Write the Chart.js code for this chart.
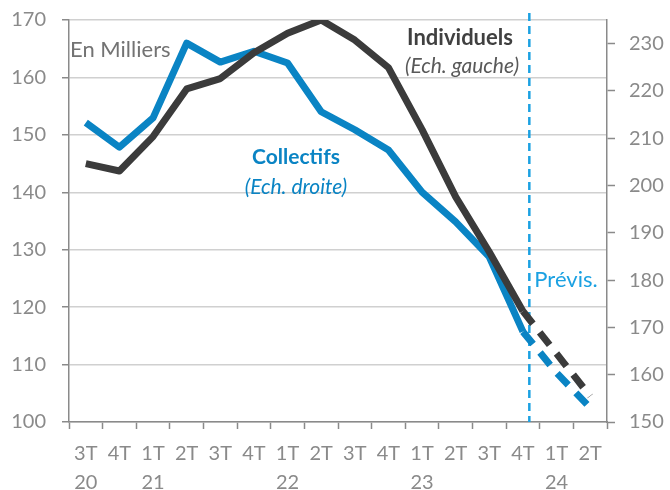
<!DOCTYPE html>
<html>
<head>
<meta charset="utf-8">
<script src="https://cdn.jsdelivr.net/npm/chart.js@4.4.1/dist/chart.umd.min.js"></script>
<style>
  html, body { margin: 0; padding: 0; background: #fff; }
  #wrap { width: 670px; height: 490px; }
</style>
</head>
<body>
<div id="wrap"><canvas id="myChart" width="670" height="490"></canvas></div>
<script>
// trimestres et années (axe x sur deux lignes)
const trimestres = ['3T', '4T', '1T', '2T', '3T', '4T', '1T', '2T', '3T', '4T', '1T', '2T', '3T', '4T', '1T', '2T'];
const annees = ['20', '', '21', '', '', '', '22', '', '', '', '23', '', '', '', '24', ''];

// Individuels (échelle gauche), en milliers
const individuels = [145, 143.7, 149.7, 158, 159.8, 164.3, 167.7, 170, 166.5, 161.7, 150.9, 139.2, 129.6, 119.3, 111.9, 104.5];
// Collectifs (échelle droite), en milliers
const collectifs = [213.3, 208.1, 214.3, 230.1, 226.1, 228.4, 225.9, 215.6, 211.8, 207.5, 198.6, 192.3, 184.9, 169.1, 160.4, 153];

// dernier point observé (4T23), ensuite prévision
const dernierReel = 13;
const debutPrevis = 13.19; // position de la ligne verticale "Prévis."

const ticksGauche = [100, 170, 10];
const ticksDroite = [150, 235, 10];

const labels = trimestres.map((t, i) => [t, annees[i]]);
const reel = arr => arr.map((v, i) => i <= dernierReel ? v : null);
const prev = arr => arr.map((v, i) => i >= dernierReel ? v : null);

const NOIR = '#3b3b3b';
const BLEU = '#0a84c4';
const BLEU_CLAIR = '#1ba1e2';
const GRIS = '#8a8a8a';
const FONT = 'Lato, "Open Sans", sans-serif';

// textes et ligne verticale
const annotations = {
    id: 'annotations',
    beforeDatasetsDraw(chart) {
        const ctx = chart.ctx;
        const x = chart.scales.x.getPixelForValue(debutPrevis);
        ctx.save();
        ctx.strokeStyle = BLEU_CLAIR;
        ctx.lineWidth = 2.5;
        ctx.setLineDash([8, 5]);
        ctx.beginPath();
        ctx.moveTo(x, 13);
        ctx.lineTo(x, chart.chartArea.bottom);
        ctx.stroke();
        ctx.restore();
    },
    afterDraw(chart) {
        const ctx = chart.ctx;
        ctx.save();
        ctx.textBaseline = 'middle';
        ctx.textAlign = 'left';
        ctx.fillStyle = '#737373';
        ctx.font = '22px ' + FONT;
        ctx.fillText('En Milliers', 70, 50);

        ctx.textAlign = 'center';
        ctx.fillStyle = '#404040';
        ctx.font = 'bold 22px ' + FONT;
        ctx.fillText('Individuels', 460, 38);
        ctx.fillStyle = '#595959';
        ctx.font = 'italic 21px ' + FONT;
        ctx.fillText('(Ech. gauche)', 462, 66);

        ctx.fillStyle = BLEU;
        ctx.font = 'bold 21px ' + FONT;
        ctx.fillText('Collectifs', 296, 157);
        ctx.font = 'italic 21px ' + FONT;
        ctx.fillText('(Ech. droite)', 296, 187);

        ctx.fillStyle = BLEU_CLAIR;
        ctx.font = '22px ' + FONT;
        ctx.fillText('Prévis.', 566, 280);
        ctx.restore();
    }
};

const ctx = document.getElementById('myChart');
const myChart = new Chart(ctx, {
    type: 'line',
    data: {
        labels: labels,
        datasets: [
            { data: reel(individuels), yAxisID: 'y', borderColor: NOIR, borderWidth: 7 },
            { data: prev(individuels), yAxisID: 'y', borderColor: NOIR, borderWidth: 7, borderDash: [16, 11], borderCapStyle: 'butt' },
            { data: reel(collectifs), yAxisID: 'y2', borderColor: BLEU, borderWidth: 7 },
            { data: prev(collectifs), yAxisID: 'y2', borderColor: BLEU, borderWidth: 7, borderDash: [16, 11], borderCapStyle: 'butt' }
        ]
    },
    options: {
        responsive: false,
        animation: false,
        layout: { padding: { top: 20, left: 0, right: 0, bottom: 0 } },
        elements: {
            point: { radius: 0 },
            line: { tension: 0, borderJoinStyle: 'round', fill: false }
        },
        plugins: { legend: { display: false }, tooltip: { enabled: false } },
        scales: {
            x: {
                offset: true,
                afterFit: s => { s.height = 68; },
                grid: { display: true, offset: true, drawOnChartArea: false, drawTicks: true, tickLength: 7, tickColor: GRIS, tickWidth: 1.5 },
                border: { display: true, color: GRIS, width: 1.5 },
                ticks: { color: GRIS, font: { family: FONT, size: 20, lineHeight: 1.45 }, padding: 10, maxRotation: 0, autoSkip: false }
            },
            y: {
                position: 'left',
                min: ticksGauche[0], max: ticksGauche[1],
                afterFit: s => { s.width = 69; s.paddingTop = 0; s.paddingBottom = 0; },
                grid: { color: '#d0d0d0', lineWidth: 1.5, borderDash: [6, 4], drawTicks: true, tickLength: 7, tickColor: GRIS, tickWidth: 1.5, tickBorderDash: [] },
                border: { display: true, color: GRIS, width: 1.5, dash: [] },
                ticks: { stepSize: ticksGauche[2], color: GRIS, font: { family: FONT, size: 20 }, padding: 16 }
            },
            y2: {
                position: 'right',
                min: ticksDroite[0], max: ticksDroite[1],
                afterFit: s => { s.width = 63; s.paddingTop = 0; s.paddingBottom = 0; },
                afterBuildTicks: s => { s.ticks = s.ticks.filter(t => t.value <= 230); },
                grid: { drawOnChartArea: false, drawTicks: true, tickLength: 8, tickColor: GRIS, tickWidth: 1.5 },
                border: { display: true, color: GRIS, width: 1.5 },
                ticks: { stepSize: ticksDroite[2], color: GRIS, font: { family: FONT, size: 20 }, padding: 14 }
            }
        }
    },
    plugins: [annotations]
});
</script>
</body>
</html>
